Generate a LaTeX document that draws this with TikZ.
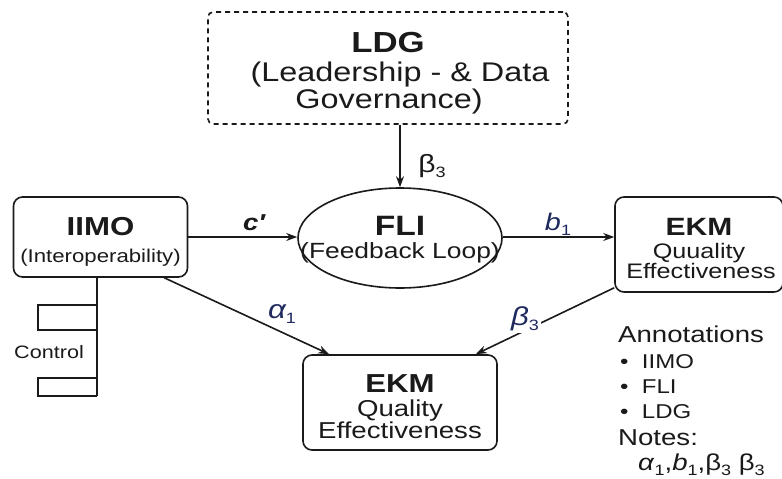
\documentclass[tikz,border=0pt]{standalone}
\usepackage{fontspec}
\setmainfont[FakeStretch=1.2]{Liberation Sans}
\usetikzlibrary{shapes.geometric,arrows.meta}
\definecolor{lblue}{HTML}{1E2A5E}
\definecolor{ink}{HTML}{1A1A1A}
\newcommand{\fsz}[1]{\fontsize{#1}{#1}\selectfont}
\newcommand{\sbs}[1]{\raisebox{-0.22em}{\fontsize{15}{15}\selectfont\upshape #1}}
\begin{document}
\begin{tikzpicture}[x=1pt,y=-1pt,
  box/.style={draw=ink,line width=1.6pt,rounded corners=9pt,inner sep=0pt},
  txt/.style={anchor=base,inner sep=0pt,text=ink},
  arr/.style={draw=ink,line width=1.6pt,-{Stealth[length=11pt,width=8pt]}},
  lab/.style={anchor=base,inner sep=0pt}]
\useasboundingbox[fill=white] (0,0) rectangle (782,479);
% boxes
\node[box,dashed,dash pattern=on 5pt off 4pt,rounded corners=5pt,minimum width=360pt,minimum height=112pt] (ldg) at (388,68) {};
\node[box,minimum width=174pt,minimum height=80pt] (iimo) at (100.5,237) {};
\node[draw=ink,line width=1.6pt,ellipse,inner sep=0pt,minimum width=204pt,minimum height=100pt] (fli) at (400,238) {};
\node[box,minimum width=168pt,minimum height=95pt] (ekmr) at (699,244.5) {};
\node[box,minimum width=194pt,minimum height=95pt] (ekmb) at (400,402.5) {};
% texts
\node[txt,font=\fsz{29}\bfseries] (ldg1) at (388,52) {LDG};
\node[txt,font=\fsz{27}] (ldg2) at (400,81) {(Leadership - \& Data};
\node[txt,font=\fsz{27}] (ldg3) at (389,108) {Governance)};
\node[txt,font=\fsz{26}\bfseries] (iimo1) at (100.5,235) {IIMO};
\node[txt,font=\fsz{18.5}] (iimo2) at (100.5,262) {(Interoperability)};
\node[txt,font=\fsz{28}\bfseries] (fli1) at (400,235) {FLI};
\node[txt,font=\fsz{22}] (fli2) at (400,258) {(Feedback Loop)};
\node[txt,font=\fsz{25}\bfseries] (ekmr1) at (699,235) {EKM};
\node[txt,font=\fsz{21}] (ekmr2) at (699,258) {Quuality};
\node[txt,font=\fsz{21}] (ekmr3) at (701,278) {Effectiveness};
\node[txt,font=\fsz{26}\bfseries] (ekmb1) at (400,392) {EKM};
\node[txt,font=\fsz{23}] (ekmb2) at (400,416) {Quality};
\node[txt,font=\fsz{23}] (ekmb3) at (400,438) {Effectiveness};
% connectors
\draw[arr] (fli.north |- ldg.south) -- (fli.north);
\draw[arr] (iimo.east |- 0,237) -- (fli.west |- 0,237);
\draw[arr] (fli.east |- 0,237) -- (ekmr.west |- 0,237);
\draw[arr] ([xshift=-24pt]iimo.south east) -- ([xshift=27pt]ekmb.north west);
\draw[arr] ([yshift=5pt]ekmr.south west) -- ([xshift=-22pt]ekmb.north east);
% labels
\node[lab,text=ink,font=\fsz{25}] (lb3) at (432,172) {β\sbs{3}};
\node[lab,text=ink,font=\fsz{23}\bfseries\itshape] (lc) at (254,230) {c′};
\node[lab,text=lblue,font=\fsz{24}\itshape] (lb1) at (558,230) {b\sbs{1}};
\node[lab,text=lblue,font=\fsz{26}\itshape] (la1) at (282,318) {α\sbs{1}};
\node[lab,text=lblue,font=\fsz{26}\itshape,fill=white,inner sep=2pt] (lb3b) at (525,325) {β\sbs{3}};
% control
\coordinate (c0) at (97,277);
\coordinate (c1) at (97,396);
\draw[draw=ink,line width=1.6pt] (c0) -- (c1);
\draw[draw=ink,line width=1.3pt] (97,305) -- (38,305) -- (38,330) -- (97,330);
\draw[draw=ink,line width=1.3pt] (97,378) -- (38,378) -- (38,396) -- (97,396);
\node[lab,text=ink,font=\fsz{18},anchor=base west] (ctl) at (14,358) {Control};
% annotations
\node[lab,text=ink,font=\fsz{23},anchor=base west] (ann) at (618,342) {Annotations};
\node[lab,text=ink,font=\fsz{20},anchor=base west] (an1) at (620,368) {•\ \ IIMO};
\node[lab,text=ink,font=\fsz{20},anchor=base west] (an2) at (620,393) {•\ \ FLI};
\node[lab,text=ink,font=\fsz{20},anchor=base west] (an3) at (620,418) {•\ \ LDG};
\node[lab,text=ink,font=\fsz{23},anchor=base west] (notes) at (618,445) {Notes:};
\node[lab,text=ink,font=\fsz{23},anchor=base west] (nl) at (638,470) {\textit{α}\sbs{1},\textit{b}\sbs{1},β\sbs{3} β\sbs{3}};
\end{tikzpicture}
\end{document}
